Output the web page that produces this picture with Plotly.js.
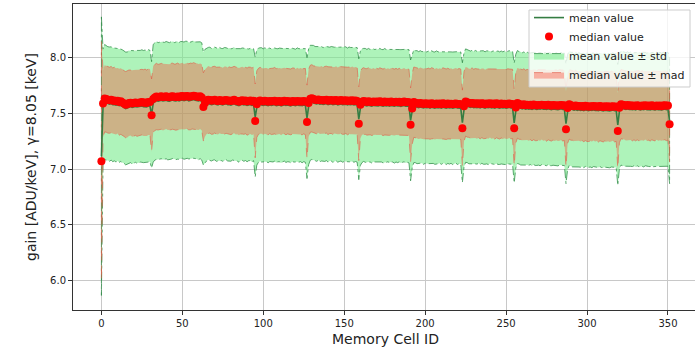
<!DOCTYPE html>
<html>
<head>
<meta charset="utf-8">
<script src="https://cdn.plot.ly/plotly-3.0.1.min.js"></script>
<style>
  html, body { margin: 0; padding: 0; overflow: hidden; background: #fff; }
  #chart { width: 700px; height: 351px; }
</style>
</head>
<body>
<div id="chart"></div>
<script>
// Per memory cell (0..351) statistics
const medianValue = [
7.070,7.585,7.630,7.625,7.620,7.615,7.620,7.610,7.612,7.605,7.610,7.600,7.605,7.595,7.585,7.575,7.580,7.590,7.592,7.585,7.590,7.595,7.590,7.592,7.595,7.598,7.592,7.595,7.590,7.600,7.598,7.480,
7.625,7.640,7.648,7.642,7.645,7.650,7.643,7.646,7.650,7.644,7.642,7.648,7.651,7.645,7.643,7.649,7.644,7.650,7.652,7.646,7.650,7.653,7.645,7.649,7.651,7.655,7.650,7.648,7.644,7.650,7.640,7.555,
7.590,7.612,7.620,7.618,7.610,7.614,7.620,7.611,7.609,7.617,7.612,7.608,7.614,7.618,7.610,7.612,7.607,7.613,7.619,7.610,7.608,7.602,7.611,7.614,7.609,7.612,7.603,7.609,7.612,7.604,7.610,7.430,
7.580,7.605,7.612,7.608,7.603,7.610,7.606,7.601,7.609,7.604,7.607,7.611,7.602,7.605,7.608,7.600,7.606,7.610,7.603,7.607,7.604,7.600,7.608,7.605,7.602,7.609,7.603,7.606,7.601,7.607,7.603,7.420,
7.590,7.628,7.632,7.625,7.620,7.617,7.622,7.614,7.618,7.612,7.616,7.620,7.611,7.615,7.618,7.610,7.614,7.617,7.609,7.613,7.616,7.610,7.612,7.615,7.608,7.613,7.610,7.614,7.609,7.612,7.608,7.405,
7.575,7.602,7.608,7.604,7.600,7.606,7.601,7.597,7.604,7.600,7.603,7.598,7.605,7.601,7.596,7.603,7.599,7.602,7.597,7.604,7.600,7.596,7.602,7.598,7.601,7.595,7.600,7.603,7.597,7.599,7.596,7.395,
7.540,7.598,7.592,7.588,7.584,7.590,7.585,7.581,7.587,7.583,7.586,7.580,7.588,7.584,7.579,7.586,7.582,7.585,7.580,7.587,7.583,7.579,7.585,7.581,7.584,7.578,7.583,7.586,7.580,7.582,7.579,7.365,
7.560,7.603,7.596,7.590,7.586,7.591,7.584,7.588,7.583,7.587,7.581,7.589,7.585,7.580,7.586,7.583,7.588,7.582,7.585,7.580,7.587,7.583,7.579,7.585,7.581,7.584,7.578,7.583,7.586,7.580,7.582,7.365,
7.550,7.590,7.582,7.577,7.573,7.578,7.571,7.575,7.570,7.574,7.568,7.576,7.572,7.567,7.573,7.570,7.575,7.569,7.572,7.567,7.574,7.570,7.566,7.572,7.568,7.571,7.565,7.570,7.573,7.567,7.569,7.355,
7.545,7.578,7.571,7.566,7.562,7.567,7.560,7.564,7.559,7.563,7.557,7.565,7.561,7.556,7.562,7.559,7.564,7.558,7.561,7.556,7.563,7.559,7.555,7.561,7.557,7.560,7.554,7.559,7.562,7.556,7.558,7.340,
7.548,7.580,7.575,7.570,7.566,7.572,7.566,7.569,7.564,7.568,7.563,7.570,7.566,7.562,7.568,7.565,7.570,7.564,7.567,7.563,7.569,7.566,7.562,7.568,7.564,7.567,7.562,7.567,7.570,7.565,7.568,7.400
];
const meanValue = [
7.115,7.560,7.598,7.592,7.585,7.580,7.586,7.575,7.578,7.570,7.574,7.566,7.570,7.560,7.552,7.541,7.546,7.555,7.558,7.550,7.556,7.560,7.555,7.557,7.561,7.563,7.558,7.560,7.556,7.565,7.562,7.485,
7.588,7.604,7.613,7.607,7.611,7.615,7.608,7.611,7.616,7.609,7.607,7.613,7.617,7.610,7.608,7.614,7.609,7.615,7.618,7.611,7.616,7.619,7.610,7.614,7.617,7.621,7.615,7.613,7.609,7.615,7.604,7.540,
7.560,7.578,7.585,7.583,7.575,7.580,7.586,7.576,7.574,7.582,7.577,7.573,7.580,7.584,7.575,7.577,7.572,7.579,7.585,7.575,7.573,7.567,7.576,7.580,7.574,7.577,7.568,7.574,7.577,7.569,7.575,7.465,
7.550,7.570,7.577,7.573,7.568,7.575,7.571,7.566,7.574,7.569,7.572,7.576,7.567,7.570,7.573,7.565,7.571,7.575,7.568,7.572,7.569,7.565,7.573,7.570,7.567,7.574,7.568,7.571,7.566,7.572,7.568,7.455,
7.556,7.592,7.597,7.590,7.585,7.582,7.587,7.579,7.583,7.577,7.581,7.585,7.576,7.580,7.583,7.575,7.579,7.582,7.574,7.578,7.581,7.575,7.577,7.580,7.573,7.578,7.575,7.579,7.574,7.577,7.573,7.445,
7.545,7.566,7.573,7.569,7.565,7.571,7.566,7.562,7.569,7.565,7.568,7.563,7.570,7.566,7.561,7.568,7.564,7.567,7.562,7.569,7.565,7.561,7.567,7.563,7.566,7.560,7.565,7.568,7.562,7.564,7.561,7.435,
7.520,7.562,7.557,7.553,7.549,7.555,7.550,7.546,7.552,7.548,7.551,7.545,7.553,7.549,7.544,7.551,7.547,7.550,7.545,7.552,7.548,7.544,7.550,7.546,7.549,7.543,7.548,7.551,7.545,7.547,7.544,7.415,
7.528,7.567,7.561,7.555,7.551,7.556,7.549,7.553,7.548,7.552,7.546,7.554,7.550,7.545,7.551,7.548,7.553,7.547,7.550,7.545,7.552,7.548,7.544,7.550,7.546,7.549,7.543,7.548,7.551,7.545,7.547,7.412,
7.518,7.554,7.547,7.542,7.538,7.543,7.536,7.540,7.535,7.539,7.533,7.541,7.537,7.532,7.538,7.535,7.540,7.534,7.537,7.532,7.539,7.535,7.531,7.537,7.533,7.536,7.530,7.535,7.538,7.532,7.534,7.405,
7.510,7.543,7.536,7.531,7.527,7.532,7.525,7.529,7.524,7.528,7.522,7.530,7.526,7.521,7.527,7.524,7.529,7.523,7.526,7.521,7.528,7.524,7.520,7.526,7.522,7.525,7.519,7.524,7.527,7.521,7.523,7.395,
7.515,7.546,7.541,7.536,7.532,7.538,7.532,7.535,7.530,7.534,7.529,7.536,7.532,7.528,7.534,7.531,7.536,7.530,7.533,7.529,7.535,7.532,7.528,7.534,7.530,7.533,7.528,7.533,7.536,7.531,7.534,7.430
];
const stdValue = [
1.245,0.512,0.515,0.510,0.508,0.511,0.506,0.509,0.505,0.507,0.503,0.506,0.502,0.505,0.501,0.504,0.500,0.503,0.501,0.505,0.502,0.500,0.504,0.502,0.499,0.503,0.501,0.504,0.500,0.502,0.498,0.475,
0.526,0.524,0.527,0.522,0.525,0.523,0.526,0.521,0.524,0.527,0.522,0.525,0.523,0.520,0.524,0.526,0.522,0.525,0.521,0.524,0.526,0.523,0.520,0.524,0.522,0.525,0.521,0.523,0.526,0.522,0.524,0.505,
0.510,0.505,0.502,0.506,0.503,0.500,0.504,0.507,0.502,0.505,0.501,0.504,0.506,0.500,0.503,0.505,0.502,0.499,0.504,0.501,0.503,0.506,0.500,0.502,0.505,0.501,0.503,0.499,0.502,0.504,0.500,0.535,
0.515,0.510,0.507,0.511,0.506,0.509,0.505,0.510,0.507,0.504,0.509,0.506,0.510,0.505,0.508,0.511,0.506,0.504,0.509,0.507,0.505,0.510,0.506,0.508,0.504,0.509,0.507,0.505,0.510,0.506,0.508,0.540,
0.518,0.514,0.511,0.515,0.510,0.513,0.509,0.514,0.511,0.508,0.513,0.510,0.514,0.509,0.512,0.515,0.510,0.508,0.513,0.511,0.509,0.514,0.510,0.512,0.508,0.513,0.511,0.509,0.514,0.510,0.512,0.540,
0.512,0.508,0.505,0.509,0.504,0.507,0.503,0.508,0.505,0.502,0.507,0.504,0.508,0.503,0.506,0.509,0.504,0.502,0.507,0.505,0.503,0.508,0.504,0.506,0.502,0.507,0.505,0.503,0.508,0.504,0.506,0.540,
0.508,0.504,0.501,0.505,0.500,0.503,0.499,0.504,0.501,0.498,0.503,0.500,0.504,0.499,0.502,0.505,0.500,0.498,0.503,0.501,0.499,0.504,0.500,0.502,0.498,0.503,0.501,0.499,0.504,0.500,0.502,0.535,
0.510,0.507,0.504,0.508,0.503,0.506,0.502,0.507,0.504,0.501,0.506,0.503,0.507,0.502,0.505,0.508,0.503,0.501,0.506,0.504,0.502,0.507,0.503,0.505,0.501,0.506,0.504,0.502,0.507,0.503,0.505,0.535,
0.508,0.505,0.502,0.506,0.501,0.504,0.500,0.505,0.502,0.499,0.504,0.501,0.505,0.500,0.503,0.506,0.501,0.499,0.504,0.502,0.500,0.505,0.501,0.503,0.499,0.504,0.502,0.500,0.505,0.501,0.503,0.535,
0.514,0.511,0.508,0.512,0.507,0.510,0.506,0.511,0.508,0.505,0.510,0.507,0.511,0.506,0.509,0.512,0.507,0.505,0.510,0.508,0.506,0.511,0.507,0.509,0.505,0.510,0.508,0.506,0.511,0.507,0.509,0.540,
0.514,0.511,0.508,0.512,0.507,0.510,0.506,0.511,0.508,0.505,0.510,0.507,0.511,0.506,0.509,0.512,0.507,0.505,0.510,0.508,0.506,0.511,0.507,0.509,0.505,0.510,0.508,0.506,0.511,0.507,0.509,0.560
];
const madValue = [
1.070,0.300,0.298,0.296,0.299,0.295,0.297,0.294,0.298,0.296,0.293,0.297,0.295,0.298,0.294,0.296,0.299,0.295,0.293,0.297,0.296,0.294,0.298,0.295,0.297,0.293,0.296,0.298,0.294,0.296,0.295,0.325,
0.298,0.295,0.297,0.293,0.296,0.294,0.298,0.295,0.292,0.296,0.294,0.297,0.295,0.293,0.296,0.298,0.294,0.295,0.297,0.293,0.296,0.294,0.295,0.298,0.293,0.296,0.294,0.297,0.295,0.293,0.296,0.305,
0.300,0.298,0.301,0.297,0.300,0.302,0.298,0.299,0.301,0.297,0.300,0.298,0.302,0.299,0.297,0.301,0.300,0.298,0.299,0.302,0.297,0.300,0.298,0.301,0.299,0.297,0.300,0.302,0.298,0.299,0.300,0.330,
0.298,0.295,0.297,0.293,0.296,0.294,0.298,0.295,0.292,0.296,0.294,0.297,0.295,0.293,0.296,0.298,0.294,0.295,0.297,0.293,0.296,0.294,0.295,0.298,0.293,0.296,0.294,0.297,0.295,0.293,0.296,0.330,
0.302,0.299,0.301,0.297,0.300,0.303,0.298,0.300,0.302,0.297,0.301,0.299,0.303,0.298,0.300,0.302,0.297,0.301,0.299,0.303,0.298,0.300,0.301,0.297,0.302,0.299,0.300,0.303,0.298,0.301,0.299,0.330,
0.299,0.296,0.298,0.294,0.297,0.300,0.295,0.297,0.299,0.294,0.298,0.296,0.300,0.295,0.297,0.299,0.294,0.298,0.296,0.300,0.295,0.297,0.298,0.294,0.299,0.296,0.297,0.300,0.295,0.298,0.296,0.330,
0.317,0.314,0.316,0.312,0.315,0.318,0.313,0.315,0.317,0.312,0.316,0.314,0.318,0.313,0.315,0.317,0.312,0.316,0.314,0.318,0.313,0.315,0.316,0.312,0.317,0.314,0.315,0.318,0.313,0.316,0.314,0.340,
0.312,0.309,0.311,0.307,0.310,0.313,0.308,0.310,0.312,0.307,0.311,0.309,0.313,0.308,0.310,0.312,0.307,0.311,0.309,0.313,0.308,0.310,0.311,0.307,0.312,0.309,0.310,0.313,0.308,0.311,0.309,0.340,
0.317,0.314,0.316,0.312,0.315,0.318,0.313,0.315,0.317,0.312,0.316,0.314,0.318,0.313,0.315,0.317,0.312,0.316,0.314,0.318,0.313,0.315,0.316,0.312,0.317,0.314,0.315,0.318,0.313,0.316,0.314,0.340,
0.314,0.311,0.313,0.309,0.312,0.315,0.310,0.312,0.314,0.309,0.313,0.311,0.315,0.310,0.312,0.314,0.309,0.313,0.311,0.315,0.310,0.312,0.313,0.309,0.314,0.311,0.312,0.315,0.310,0.313,0.311,0.340,
0.312,0.309,0.311,0.307,0.310,0.313,0.308,0.310,0.312,0.307,0.311,0.309,0.313,0.308,0.310,0.312,0.307,0.311,0.309,0.313,0.308,0.310,0.311,0.307,0.312,0.309,0.310,0.313,0.308,0.311,0.309,0.340
];
const legendLabels = ["mean value", "median value", "mean value \u00b1 std", "median value \u00b1 mad"];
const xTickValues = [0, 50, 100, 150, 200, 250, 300, 350];
const yTickValues = [6.0, 6.5, 7.0, 7.5, 8.0];

// memory cell IDs are the array positions
const cellId = meanValue.map((_, i) => i);

function bandPolygon(center, spread) {
  const up = center.map((v, i) => v + spread[i]);
  const lo = center.map((v, i) => v - spread[i]);
  const xs = cellId.concat(cellId.slice().reverse(), [cellId[0]]);
  const ys = up.concat(lo.slice().reverse(), [up[0]]);
  return {x: xs, y: ys};
}

const stdBand = bandPolygon(meanValue, stdValue);
const madBand = bandPolygon(medianValue, madValue);

const traces = [
  {
    x: stdBand.x, y: stdBand.y, type: 'scatter', mode: 'lines',
    fill: 'toself', fillcolor: 'rgba(120,235,140,0.6)',
    line: {color: 'rgba(46,139,70,0.75)', width: 1, dash: 'dashdot'},
    name: legendLabels[2], legendrank: 3, hoverinfo: 'skip'
  },
  {
    x: madBand.x, y: madBand.y, type: 'scatter', mode: 'lines',
    fill: 'toself', fillcolor: 'rgba(250,80,60,0.4)',
    line: {color: 'rgba(225,90,70,0.6)', width: 1, dash: 'dash'},
    name: legendLabels[3], legendrank: 4, hoverinfo: 'skip'
  },
  {
    x: cellId, y: meanValue, type: 'scatter', mode: 'lines',
    line: {color: 'rgb(52,125,66)', width: 1.6},
    name: legendLabels[0], legendrank: 1
  },
  {
    x: cellId, y: medianValue, type: 'scatter', mode: 'markers',
    marker: {color: 'rgb(255,0,0)', size: 8, line: {width: 0}},
    name: legendLabels[1], legendrank: 2
  }
];

const axisCommon = {
  showgrid: true, gridcolor: '#c8c8c8', gridwidth: 1,
  zeroline: false, showline: true, mirror: true,
  linecolor: '#333', linewidth: 1,
  ticks: 'outside', ticklen: 4, tickwidth: 1, tickcolor: '#333',
  tickfont: {family: 'DejaVu Sans', size: 10, color: '#222'}
};

const layout = {
  width: 700, height: 351,
  margin: {l: 73, r: 2, t: 4, b: 41, pad: 0},
  paper_bgcolor: '#fff', plot_bgcolor: '#fff',
  font: {family: 'DejaVu Sans', color: '#222'},
  showlegend: true,
  legend: {
    x: 0.7296, y: 1.003, xanchor: 'left', yanchor: 'top',
    bgcolor: 'rgba(0,0,0,0)', borderwidth: 0,
    font: {family: 'DejaVu Sans', size: 11, color: '#222'},
    tracegroupgap: 0
  },
  // legend frame (matplotlib-style, semi-transparent white box)
  shapes: [{
    type: 'rect', xref: 'paper', yref: 'paper', layer: 'above',
    x0: 0.7296, x1: 0.9872, y0: 0.7288, y1: 0.9804,
    fillcolor: 'rgba(255,255,255,0.8)', line: {color: '#cccccc', width: 1}
  }],
  xaxis: Object.assign({}, axisCommon, {
    range: [-17.55, 368.55],
    tickmode: 'array', tickvals: xTickValues,
    title: {text: 'Memory Cell ID', font: {family: 'DejaVu Sans', size: 14, color: '#222'}, standoff: 6}
  }),
  yaxis: Object.assign({}, axisCommon, {
    range: [5.74, 8.475],
    tickmode: 'array', tickvals: yTickValues, tickformat: '.1f',
    title: {text: 'gain [ADU/keV], \u03b3=8.05 [keV]', font: {family: 'DejaVu Sans', size: 14, color: '#222'}, standoff: 10}
  })
};

Plotly.newPlot('chart', traces, layout, {staticPlot: true, displayModeBar: false});
</script>
</body>
</html>
